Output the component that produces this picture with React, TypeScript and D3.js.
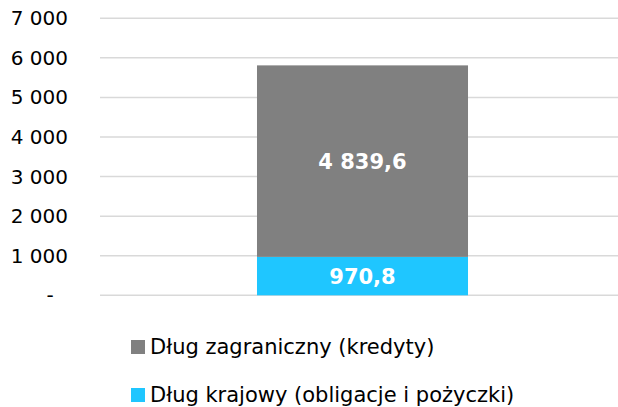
import React, { useEffect, useRef } from "react";
import * as d3 from "d3";

const categories = ["2023"];
const seriesNames = ["Dług krajowy (obligacje i pożyczki)", "Dług zagraniczny (kredyty)"];
const domesticValues = [970.8];
const foreignValues = [4839.6];
const seriesColors = ["#1FC6FF", "#808080"];
const tickValues = [0, 1000, 2000, 3000, 4000, 5000, 6000, 7000];
const tickLabels = ["-", "1 000", "2 000", "3 000", "4 000", "5 000", "6 000", "7 000"];

const W = 618;
const H = 407;
const FONT = "'DejaVu Sans', Verdana, sans-serif";

const fmt = (v: number) => {
  const s = v.toFixed(1).replace(".", ",");
  const [i, f] = s.split(",");
  return i.replace(/\B(?=(\d{3})+(?!\d))/g, " ") + "," + f;
};

export default function App() {
  const ref = useRef<SVGSVGElement>(null);

  useEffect(() => {
    const svg = d3.select(ref.current);
    svg.selectAll("*").remove();

    const x = d3.scaleBand().domain(categories).range([100, 625]).padding(0.4266);
    const y = d3.scaleLinear().domain([0, 7000]).range([295.3, 18.3]);

    // gridlines
    svg
      .append("g")
      .selectAll("line")
      .data(tickValues)
      .join("line")
      .attr("x1", 100)
      .attr("x2", W)
      .attr("y1", (d) => y(d))
      .attr("y2", (d) => y(d))
      .attr("stroke", "#D9D9D9")
      .attr("stroke-width", 1.5);

    // tick labels
    svg
      .append("g")
      .selectAll("text")
      .data(tickValues)
      .join("text")
      .attr("x", (d, i) => (i === 0 ? 50 : 68))
      .attr("y", (d) => y(d))
      .attr("dy", "0.35em")
      .attr("text-anchor", (d, i) => (i === 0 ? "middle" : "end"))
      .style("font-family", FONT)
      .style("font-size", "20px")
      .attr("fill", "#000")
      .text((d, i) => tickLabels[i]);

    const stacked = d3
      .stack()
      .keys(["domestic", "foreign"])(
        categories.map((c, i) => ({ cat: c, domestic: domesticValues[i], foreign: foreignValues[i] }))
      );

    stacked.forEach((layer, li) => {
      const g = svg.append("g");
      g.selectAll("rect")
        .data(layer)
        .join("rect")
        .attr("x", (d) => x(d.data.cat))
        .attr("width", x.bandwidth())
        .attr("y", (d) => y(d[1]))
        .attr("height", (d) => y(d[0]) - y(d[1]))
        .attr("fill", seriesColors[li]);
      g.selectAll("text")
        .data(layer)
        .join("text")
        .attr("x", (d) => x(d.data.cat) + x.bandwidth() / 2)
        .attr("y", (d) => (y(d[0]) + y(d[1])) / 2)
        .attr("dy", "0.36em")
        .attr("text-anchor", "middle")
        .attr("fill", "#fff")
        .style("font-family", FONT)
        .style("font-size", "21px")
        .style("font-weight", "bold")
        .text((d) => fmt(d[1] - d[0]));
    });

    // legend (foreign first)
    const legendOrder = [1, 0];
    const lg = svg
      .append("g")
      .selectAll("g")
      .data(legendOrder)
      .join("g")
      .attr("transform", (d, i) => `translate(131, ${347 + i * 48})`);
    lg.append("rect")
      .attr("x", 0)
      .attr("y", -7)
      .attr("width", 14)
      .attr("height", 14)
      .attr("fill", (d) => seriesColors[d]);
    lg.append("text")
      .attr("x", 19)
      .attr("y", 0)
      .attr("dy", "0.35em")
      .style("font-family", FONT)
      .style("font-size", "21px")
      .attr("fill", "#000")
      .text((d) => seriesNames[d]);
  }, []);

  return (
    <svg
      ref={ref}
      width={W}
      height={H}
      style={{ position: "absolute", left: 0, top: 0, background: "#fff" }}
    />
  );
}
